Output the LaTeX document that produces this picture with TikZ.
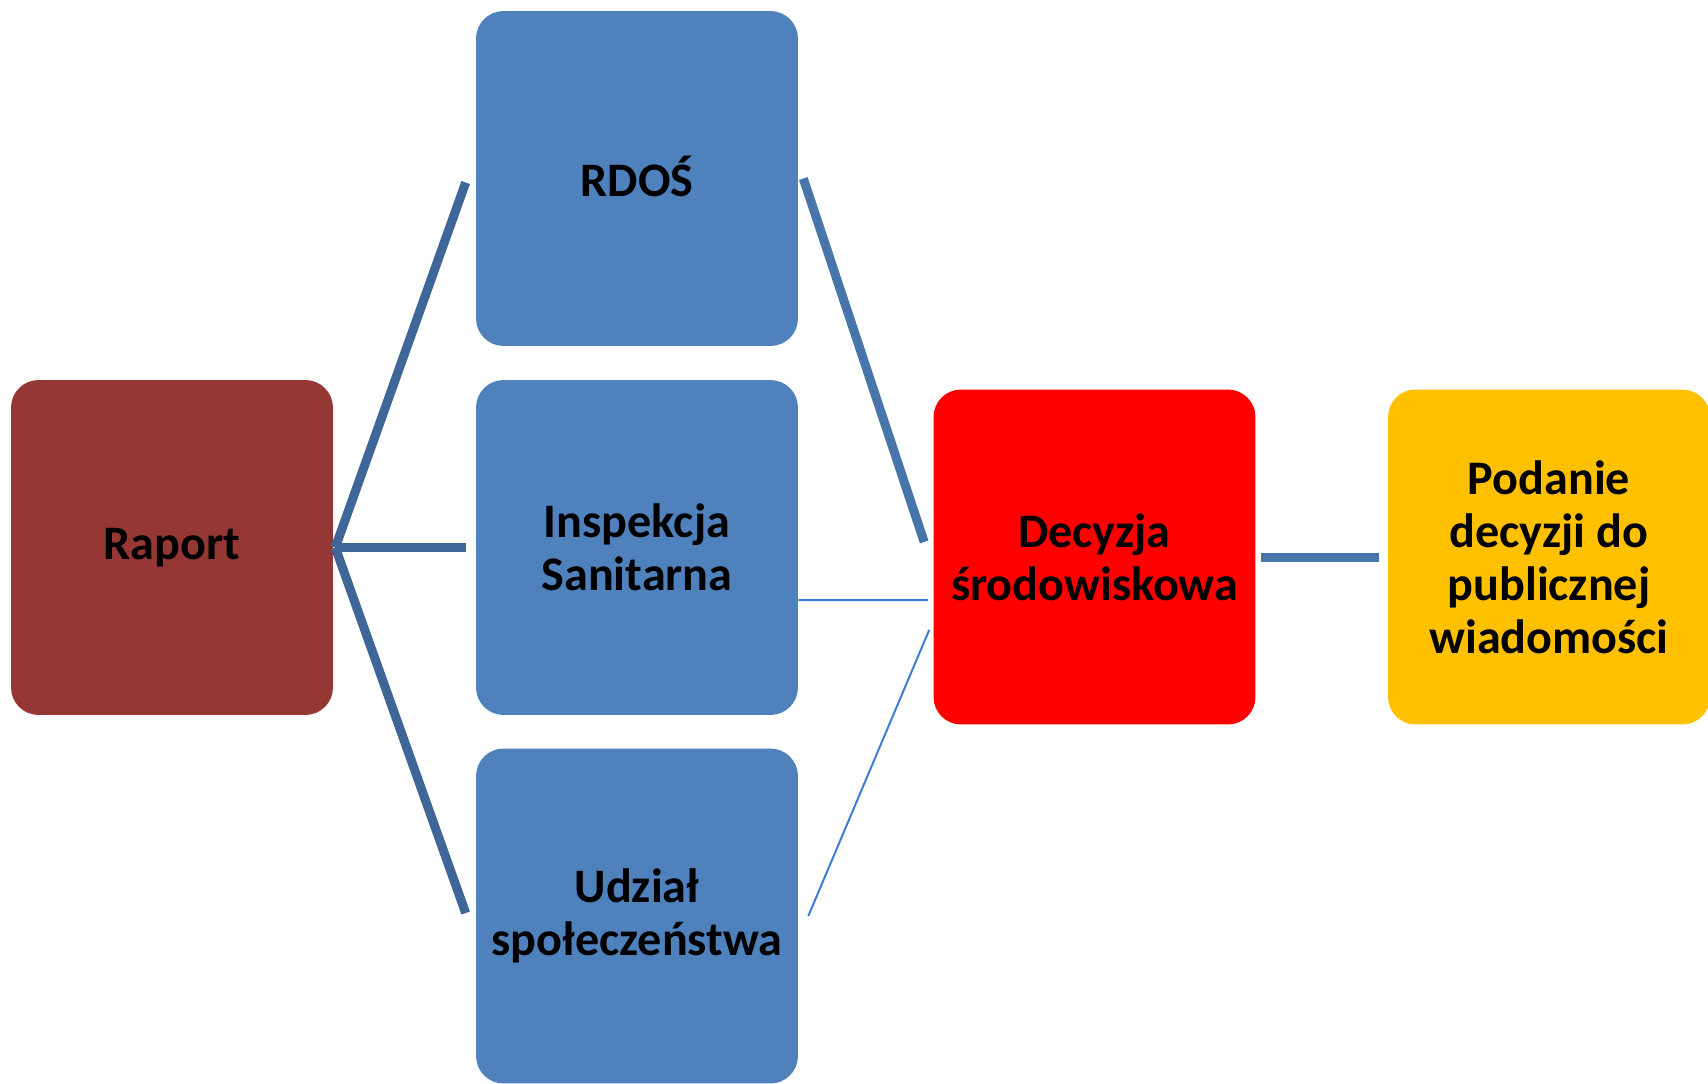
\documentclass[tikz,border=0pt]{standalone}
\usepackage{fontspec}
\setmainfont{Carlito}
\usepackage{xcolor}
\usepackage{tikz}

\definecolor{raportred}{HTML}{953735}
\definecolor{officeblue}{HTML}{4F81BD}
\definecolor{podanieyellow}{HTML}{FFC000}
\definecolor{darklink}{RGB}{62,102,150}
\definecolor{midlink}{RGB}{72,117,170}
\definecolor{thinlink}{RGB}{62,125,215}

\begin{document}
\begin{tikzpicture}[x=.02cm, y=-.02cm,
    box/.style={rounded corners=.55cm, minimum width=6.44cm, minimum height=6.7cm,
                inner sep=0pt, align=center, text=black,
                font=\fontsize{27.4}{30.2}\selectfont\bfseries},
    leftlink/.style={draw=darklink, line width=.18cm},
    rightlink/.style={draw=midlink, line width=.18cm},
    thinlink/.style={draw=thinlink, line width=.04cm}]
             \useasboundingbox (0,0) rectangle (1708,1083);

             \node[box, fill=raportred] (raport) at (172, 547.5) {Raport};
             \node[box, fill=officeblue] (rdos) at (637, 178.5) {\raisebox{.1cm}{RDOŚ}};
             \node[box, fill=officeblue] (inspekcja) at (637, 547.5) {Inspekcja\\Sanitarna};
             \node[box, fill=officeblue] (udzial) at (637, 916) {Udział\\społeczeństwa};
             \node[box, fill=red] (decyzja) at (1094.5, 557) {Decyzja\\środowiskowa};
             \node[box, fill=podanieyellow] (podanie) at (1549, 557) {Podanie\\decyzji do\\publicznej\\wiadomości};

             \draw[leftlink] ([xshift=.04cm]raport.east) -- ([xshift=-.2cm, yshift=-.08cm]rdos.west);
             \draw[leftlink] ([xshift=.04cm]raport.east) -- ([xshift=-.2cm]inspekcja.west);
             \draw[leftlink] ([xshift=.04cm]raport.east) -- ([xshift=-.2cm, yshift=.06cm]udzial.west);

             \draw[rightlink] ([xshift=.1cm]rdos.east) -- ([xshift=-.18cm, yshift=.3cm]decyzja.west);
             \draw[thinlink] ([yshift=-1.05cm]inspekcja.east) -- ([xshift=-.1cm, yshift=-.86cm]decyzja.west);
             \draw[thinlink] ([xshift=.2cm]udzial.east) -- ([xshift=-.08cm, yshift=-1.46cm]decyzja.west);

             \draw[rightlink] ([xshift=.1cm]decyzja.east) -- ([xshift=-.18cm]podanie.west);
\end{tikzpicture}
\end{document}
